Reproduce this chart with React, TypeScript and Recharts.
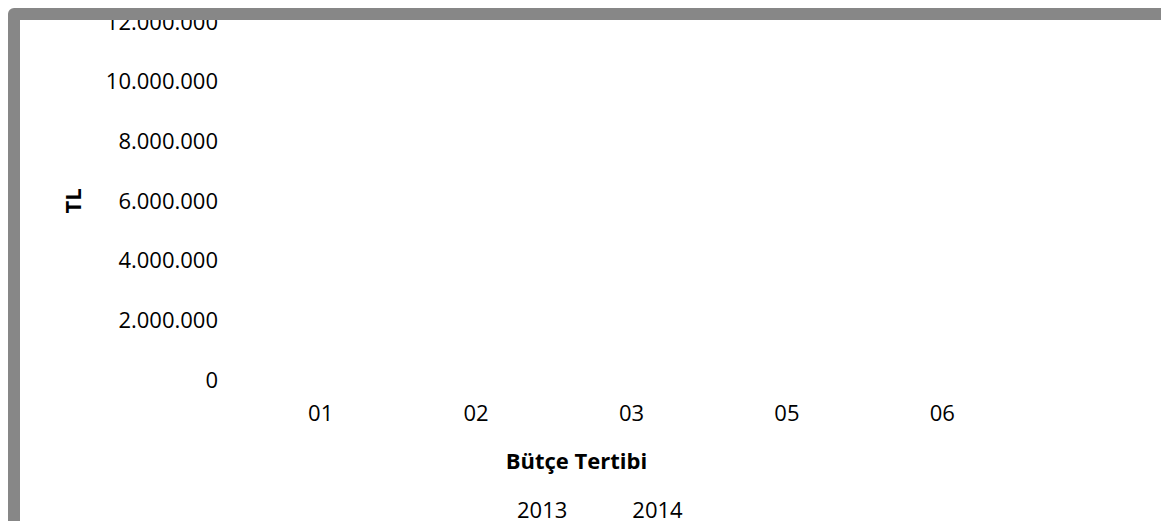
import React from "react";
import { BarChart, Bar, XAxis, YAxis, Legend } from "recharts";

// Bütçe tertibi kodları
const categories = ["01", "02", "03", "05", "06"];
// no bars are visible in the source picture, so every value is shown as 0
const values2013 = [0, 0, 0, 0, 0];
const values2014 = [0, 0, 0, 0, 0];
const yTicks = [0, 2000000, 4000000, 6000000, 8000000, 10000000, 12000000];
const seriesNames = ["2013", "2014"];

const data = categories.map((c, i) => ({
  name: c,
  y2013: values2013[i],
  y2014: values2014[i],
}));

const fmt = (v: number) => String(v).replace(/\B(?=(\d{3})+(?!\d))/g, ".");

function LegendText({ payload }: any) {
  return (
    <div
      style={{
        display: "flex",
        paddingLeft: 497,
        gap: 65,
        height: 20,
        lineHeight: "20px",
        fontSize: 22,
        color: "#000",
      }}
    >
      {(payload || []).map((p: any) => (
        <span key={p.value}>{p.value}</span>
      ))}
    </div>
  );
}

export default function App() {
  return (
    <div
      style={{
        position: "fixed",
        left: 0,
        top: 0,
        width: 1161,
        height: 521,
        overflow: "hidden",
        background: "#fff",
        fontFamily: "'Open Sans', sans-serif",
      }}
    >
      <div
        style={{
          position: "absolute",
          left: 8,
          top: 8,
          width: 1141,
          height: 501,
          border: "12px solid #878787",
          borderRadius: 6,
          background: "#fff",
          overflow: "hidden",
        }}
      >
        <BarChart
          width={1141}
          height={501}
          data={data}
          margin={{ top: 2, right: 141, bottom: 2, left: 0 }}
        >
          <XAxis
            dataKey="name"
            axisLine={false}
            tickLine={false}
            tickSize={0}
            tickMargin={25}
            height={119}
            tick={{ fill: "#000", fontSize: 22 }}
            label={{
              value: "Bütçe Tertibi",
              position: "insideTop",
              offset: 73,
              dx: -55,
              fill: "#000",
              fontSize: 22,
              fontWeight: "bold",
            }}
          />
          <YAxis
            width={223}
            type="number"
            domain={[0, 12000000]}
            allowDataOverflow
            ticks={yTicks}
            interval={0}
            axisLine={false}
            tickLine={false}
            tickSize={0}
            tickMargin={25}
            tickFormatter={fmt}
            tick={{ fill: "#000", fontSize: 22 }}
            label={{
              value: "TL",
              angle: -90,
              position: "center",
              dx: -58,
              fill: "#000",
              fontSize: 22,
              fontWeight: "bold",
            }}
          />
          <Legend content={<LegendText />} verticalAlign="bottom" />
          <Bar dataKey="y2013" name={seriesNames[0]} fill="#4F81BD" isAnimationActive={false} />
          <Bar dataKey="y2014" name={seriesNames[1]} fill="#C0504D" isAnimationActive={false} />
        </BarChart>
      </div>
    </div>
  );
}
